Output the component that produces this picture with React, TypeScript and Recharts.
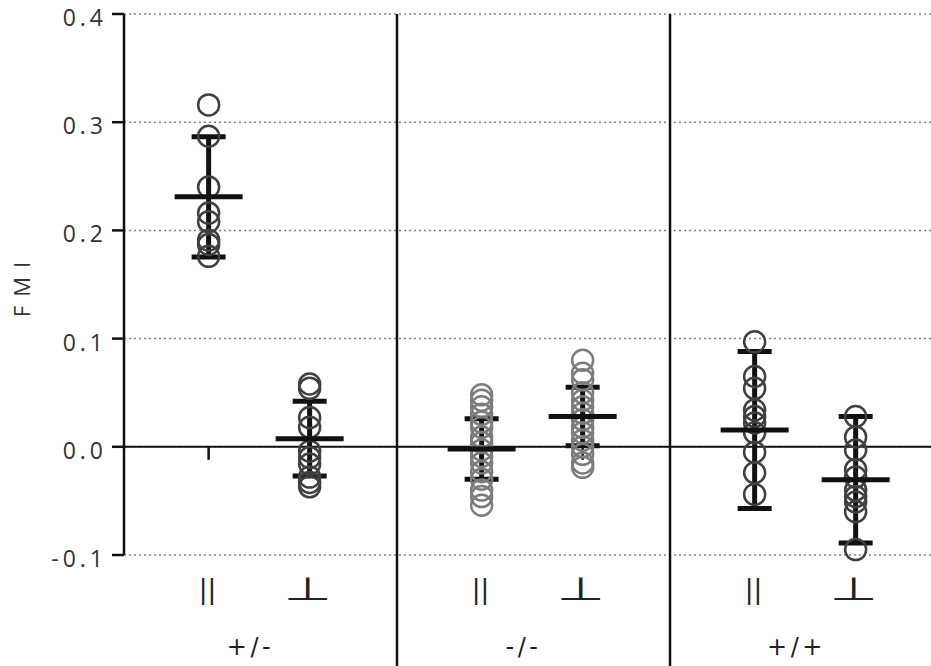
import {
  ComposedChart,
  Scatter,
  XAxis,
  YAxis,
  CartesianGrid,
  ReferenceLine,
  ErrorBar,
} from "recharts";

const genotypes = ["+/-", "-/-", "+/+"];
const orientations = ["||", "⊥"];

// FMI of each cell
const hetParallel = [0.316, 0.287, 0.24, 0.216, 0.208, 0.191, 0.187, 0.176];
const hetPerp = [0.058, 0.054, 0.027, 0.018, -0.004, -0.01, -0.016, -0.028, -0.033, -0.037];
const koParallel = [
  0.048, 0.043, 0.037, 0.03, 0.023, 0.018, 0.009, 0.004, -0.003, -0.009, -0.015, -0.023,
  -0.03, -0.04, -0.046, -0.054,
];
const koPerp = [
  0.08, 0.068, 0.062, 0.05, 0.043, 0.037, 0.031, 0.025, 0.018, 0.013, 0.006, 0.0, -0.007,
  -0.015, -0.019,
];
const wtParallel = [0.097, 0.065, 0.054, 0.034, 0.028, 0.022, 0.013, -0.005, -0.024, -0.044];
const wtPerp = [0.028, 0.009, -0.003, -0.021, -0.028, -0.04, -0.046, -0.051, -0.06, -0.095];

// mean and SD, same order as the groups
const meanFmi = [0.231, 0.0075, -0.002, 0.028, 0.0155, -0.0305];
const sdFmi = [0.0555, 0.0345, 0.028, 0.027, 0.0725, 0.0585];

const yTicks = [-0.1, 0, 0.1, 0.2, 0.3, 0.4];

const groups = [hetParallel, hetPerp, koParallel, koPerp, wtParallel, wtPerp];
const circleColors = ["#404040", "#404040", "#7c7c7c", "#7c7c7c", "#404040", "#404040"];

// each genotype panel is one unit wide, the two orientations sit inside it
const slotOffset = [0.31, 0.68];
const slotX = groups.map((_, i) => Math.floor(i / 2) + slotOffset[i % 2]);
const genotypeX = genotypes.map((_, i) => i + 0.5);
const xDomain = [0, 2.956];

const summary = meanFmi.map((m, i) => ({ x: slotX[i], y: m, sd: sdFmi[i] }));
const genotypeAnchors = genotypeX.map((x) => ({ x, y: 0 }));

const labelFont = "'Open Sans', sans-serif";
const symbolFont = "'DejaVu Sans', sans-serif";

const openCircle = (color: string) => (props: any) =>
  <circle cx={props.cx} cy={props.cy} r={10.5} fill="none" stroke={color} strokeWidth={2.5} />;

const MeanBar = (props: any) => (
  <line
    x1={props.cx - 34}
    x2={props.cx + 34}
    y1={props.cy}
    y2={props.cy}
    stroke="#111"
    strokeWidth={5}
  />
);

const Nothing = () => <g />;

const YTick = (props: any) => {
  const { x, y, payload } = props;
  return (
    <text
      x={x}
      y={y + 12}
      textAnchor="end"
      fontFamily={labelFont}
      fontSize={23}
      letterSpacing={4}
      fill="#333"
    >
      {Number(payload.value).toFixed(1)}
    </text>
  );
};

const OrientationTick = (props: any) => {
  const { x, y, payload } = props;
  const idx = slotX.findIndex((v) => Math.abs(v - payload.value) < 1e-6);
  const label = orientations[idx % 2];
  if (label === "||") {
    return (
      <text
        x={x - 1}
        y={y + 43}
        textAnchor="middle"
        fontFamily={symbolFont}
        fontSize={26}
        fill="#222"
      >
        {label}
      </text>
    );
  }
  return (
    <text
      x={0}
      y={0}
      transform={`translate(${x - 2} ${y + 45}) scale(1.72 1)`}
      textAnchor="middle"
      fontFamily={symbolFont}
      fontSize={32}
      fill="#222"
    >
      {label}
    </text>
  );
};

const GenotypeTick = (props: any) => {
  const { x, y, payload } = props;
  const idx = genotypeX.findIndex((v) => Math.abs(v - payload.value) < 1e-6);
  return (
    <text
      x={x - 10}
      y={y + 40}
      textAnchor="middle"
      fontFamily={symbolFont}
      fontSize={24}
      letterSpacing={3.5}
      fill="#222"
    >
      {genotypes[idx]}
    </text>
  );
};

const App = () => (
  <div style={{ position: "absolute", left: 0, top: 0, background: "#fff" }}>
    <ComposedChart width={931} height={666} margin={{ top: 14, right: 0, bottom: 0, left: 0 }}>
      <CartesianGrid vertical={false} stroke="#808080" strokeDasharray="2 3" strokeWidth={1.5} />
      <XAxis
        dataKey="x"
        type="number"
        domain={xDomain}
        ticks={slotX}
        interval={0}
        height={60}
        axisLine={false}
        tickLine={false}
        tickSize={0}
        tickMargin={0}
        tick={<OrientationTick />}
      />
      <XAxis
        xAxisId="genotype"
        dataKey="x"
        type="number"
        domain={xDomain}
        ticks={genotypeX}
        interval={0}
        height={51}
        axisLine={false}
        tickLine={false}
        tickSize={0}
        tickMargin={0}
        tick={<GenotypeTick />}
      />
      <YAxis
        dataKey="y"
        type="number"
        domain={[-0.1, 0.4]}
        ticks={yTicks}
        interval={0}
        width={124}
        tick={<YTick />}
        tickSize={12}
        tickMargin={5}
        tickLine={{ stroke: "#111", strokeWidth: 2.5 }}
        axisLine={{ stroke: "#111", strokeWidth: 2.5 }}
        label={() => (
          <text
            x={30}
            y={285}
            transform="rotate(-90 30 285)"
            textAnchor="middle"
            fontFamily={labelFont}
            fontSize={22}
            letterSpacing={9}
            fill="#333"
          >
            FMI
          </text>
        )}
      />
      <ReferenceLine y={0} stroke="#111" strokeWidth={2} />
      {slotX.map((x) => (
        <ReferenceLine
          key={"t" + x}
          segment={[
            { x, y: 0 },
            { x, y: -0.012 },
          ]}
          stroke="#111"
          strokeWidth={2.5}
        />
      ))}
      {[1, 2].map((x) => (
        <ReferenceLine
          key={"s" + x}
          segment={[
            { x, y: 0.4 },
            { x, y: -0.22 },
          ]}
          ifOverflow="visible"
          stroke="#111"
          strokeWidth={2.5}
        />
      ))}
      <Scatter
        xAxisId="genotype"
        data={genotypeAnchors}
        shape={Nothing}
        isAnimationActive={false}
      />
      {groups.map((vals, i) => (
        <Scatter
          key={i}
          data={vals.map((v) => ({ x: slotX[i], y: v }))}
          shape={openCircle(circleColors[i])}
          isAnimationActive={false}
        />
      ))}
      <Scatter data={summary} shape={MeanBar} isAnimationActive={false}>
        <ErrorBar
          dataKey="sd"
          direction="y"
          width={17}
          stroke="#111"
          strokeWidth={5}
          isAnimationActive={false}
        />
      </Scatter>
    </ComposedChart>
  </div>
);

export default App;
